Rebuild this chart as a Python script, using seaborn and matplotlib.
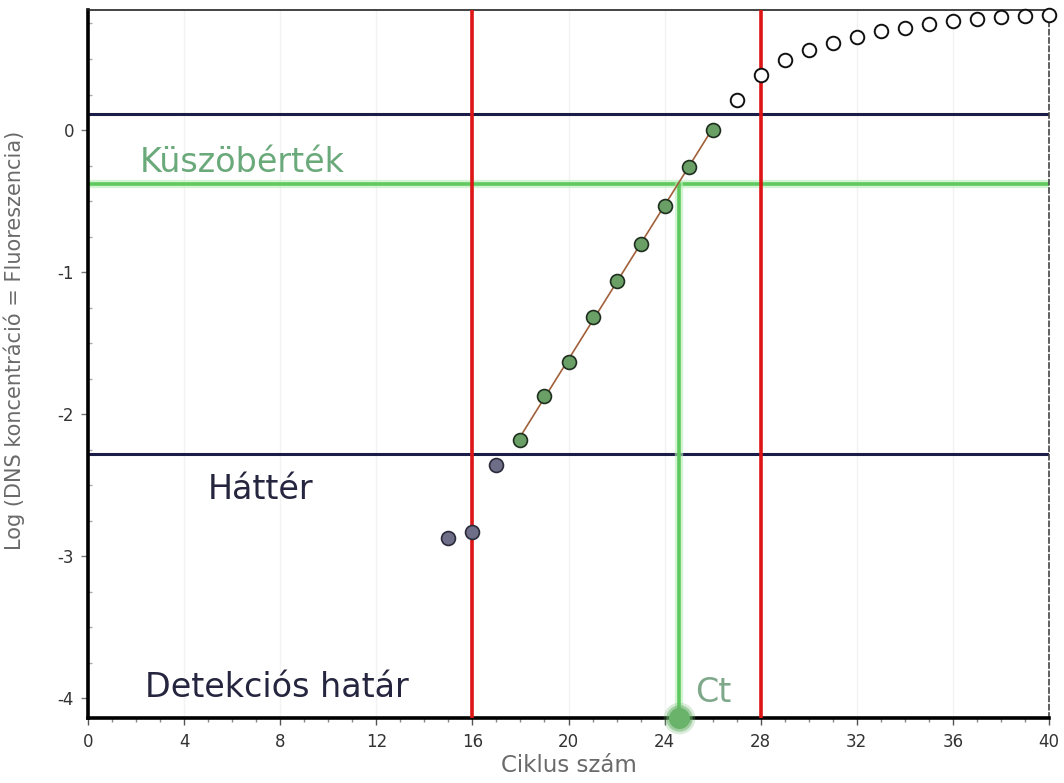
import numpy as np
import pandas as pd
import matplotlib
matplotlib.use("Agg")
import matplotlib.pyplot as plt
import seaborn as sns
from matplotlib.ticker import MultipleLocator

# Amplification curve: log fluorescence per cycle
bg_cycles = [15, 16, 17]
bg_values = [-2.87, -2.83, -2.36]

exp_cycles = [18, 19, 20, 21, 22, 23, 24, 25, 26]
exp_values = [-2.18, -1.87, -1.63, -1.32, -1.06, -0.80, -0.535, -0.26, 0.0]

plateau_cycles = [27, 28, 29, 30, 31, 32, 33, 34, 35, 36, 37, 38, 39, 40]
plateau_values = [0.21, 0.387, 0.49, 0.56, 0.61, 0.655, 0.70, 0.72, 0.745,
                  0.77, 0.78, 0.795, 0.80, 0.81]

upper_limit = 0.113        # top of the exponential window
threshold = -0.38          # Küszöbérték
background = -2.28         # Háttér
window_cycles = [16, 28]   # red window borders
ct_value = 24.6

x_ticks = [0, 4, 8, 12, 16, 20, 24, 28, 32, 36, 40]
y_ticks = [-4, -3, -2, -1, 0]

sns.set_theme(style="white")
plt.rcParams['font.family'] = ['DejaVu Sans']
plt.rcParams['axes.unicode_minus'] = False

fig = plt.figure(figsize=(10.64, 7.83), dpi=100)
ax = fig.add_axes([88 / 1064, 1 - 718 / 783, (1049 - 88) / 1064, (718 - 10) / 783])

ymin, ymax = -4.14, 0.845
ax.set_xlim(0, 40)
ax.set_ylim(ymin, ymax)

# faint vertical grid
for t in x_ticks[1:-1]:
    ax.axvline(t, color="#f3f3f3", lw=1.0, zorder=0)

navy = "#1c1c48"
green_line = "#5fc95f"
red = "#dd1515"

# horizontal reference lines
ax.axhline(upper_limit, color=navy, lw=2.2, zorder=2)
ax.axhline(background, color=navy, lw=2.2, zorder=2)
ax.axhline(threshold, color="#b8eeb8", lw=6, alpha=0.6, zorder=2)
ax.axhline(threshold, color=green_line, lw=2.6, zorder=2)

# red window borders
for c in window_cycles:
    ax.axvline(c, color=red, lw=2.6, zorder=3)

# Ct drop line
ax.plot([ct_value, ct_value], [ymin, threshold], color="#b8eeb8", lw=6, alpha=0.6, zorder=2)
ax.plot([ct_value, ct_value], [ymin, threshold], color=green_line, lw=2.6, zorder=2)

# fitted line through the exponential phase
exp_df = pd.DataFrame({"cycle": exp_cycles, "value": exp_values})
sns.regplot(data=exp_df, x="cycle", y="value", ax=ax, scatter=False, ci=None,
            truncate=True, line_kws=dict(color="#a0603a", lw=1.2, zorder=4))

# data points
sns.scatterplot(x=bg_cycles, y=bg_values, ax=ax, s=100, color="#6e6e88",
                edgecolor="#2a2a3a", linewidth=1.2, zorder=5)
sns.scatterplot(x=exp_cycles, y=exp_values, ax=ax, s=100, color="#6a9f66",
                edgecolor="#1f2f1f", linewidth=1.2, zorder=5)
sns.scatterplot(x=plateau_cycles, y=plateau_values, ax=ax, s=95, color="white",
                edgecolor="#111111", linewidth=1.4, zorder=5, clip_on=False)

# Ct marker on the axis
for s, a in [(520, 0.25), (360, 0.5), (230, 1.0)]:
    ax.scatter([ct_value], [ymin], s=s, color="#6ab36a", alpha=a, lw=0,
               zorder=6, clip_on=False)

# annotations
ax.text(2.16, -0.296, "Küszöbérték", color="#6aa97a", fontsize=24,
        va="baseline", ha="left", zorder=7)
ax.text(5.0, -2.60, "Háttér", color="#25253f", fontsize=24, va="baseline",
        ha="left", zorder=7)
ax.text(2.37, -3.99, "Detekciós határ", color="#25253f", fontsize=24,
        va="baseline", ha="left", zorder=7)
ax.text(25.26, -4.03, "Ct", color="#7fa88a", fontsize=24, va="baseline",
        ha="left", zorder=7)

# axes styling
ax.set_xticks(x_ticks)
ax.set_yticks(y_ticks)
ax.xaxis.set_minor_locator(MultipleLocator(1))
ax.yaxis.set_minor_locator(MultipleLocator(0.25))
ax.tick_params(axis="x", which="major", direction="out", length=5, width=1,
               color="#555555", labelsize=12, labelcolor="#333333", bottom=True,
               pad=6)
ax.tick_params(axis="x", which="minor", direction="out", length=3, width=1,
               color="#888888", bottom=True)
ax.tick_params(axis="y", which="major", direction="out", length=5, width=1,
               color="#777777", labelsize=12, labelcolor="#333333", left=True,
               pad=5)
ax.tick_params(axis="y", which="minor", direction="in", length=3, width=1,
               color="#aaaaaa", left=True)

ax.spines["left"].set_linewidth(2.6)
ax.spines["left"].set_color("black")
ax.spines["bottom"].set_linewidth(2.6)
ax.spines["bottom"].set_color("black")
ax.spines["top"].set_linewidth(1.2)
ax.spines["top"].set_color("#222222")
ax.spines["right"].set_linewidth(1.2)
ax.spines["right"].set_color("#444444")
ax.spines["right"].set_linestyle((0, (3, 2)))

ax.set_xlabel("Ciklus szám", fontsize=16.5, color="#6a6a6a", labelpad=2)
ax.set_ylabel("Log (DNS koncentráció = Fluoreszencia)", fontsize=15,
              color="#6a6a6a")
ax.yaxis.set_label_coords(-0.077, 0.534)
ax.yaxis.label.set_va("center")

fig.savefig("out.png", dpi=100, facecolor="white")
